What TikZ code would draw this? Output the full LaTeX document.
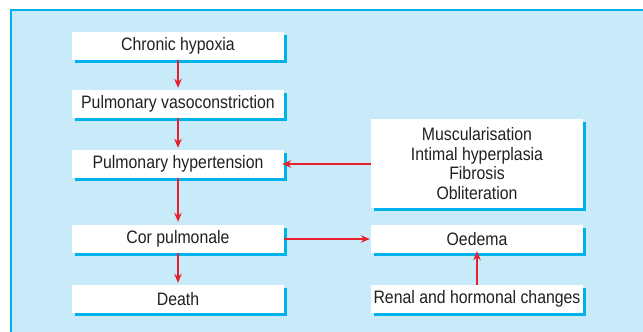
\documentclass[tikz,border=0pt]{standalone}
\usepackage{fontspec}
\setmainfont{Liberation Sans}[FakeStretch=0.88]
\usepackage{xcolor}
\usepackage{tikz}
\usetikzlibrary{arrows.meta, positioning, shadows}

\definecolor{panelblue}{HTML}{C8EAF9}
\definecolor{edgecyan}{HTML}{00B2EB}
\definecolor{arrowred}{HTML}{E8202E}
\definecolor{inkgrey}{HTML}{231F20}

\begin{document}
\begin{tikzpicture}[
    x=1pt, y=-1pt,
    stage/.style={rectangle, fill=white, minimum width=212pt, minimum height=28pt,
        inner sep=0pt, align=center, text=inkgrey, font=\fontsize{18}{19.5}\selectfont,
        general shadow={fill=edgecyan, shadow xshift=3pt, shadow yshift=-3pt}},
    link/.style={draw=arrowred, line width=1.8pt, -{Stealth[length=9pt, width=7.5pt]}}
]
\useasboundingbox (0,0) rectangle (643,332);

% Panel
\fill[panelblue] (11,10) rectangle (643,332);
\draw[edgecyan, line width=1.5pt] (11,332) -- (11,10) -- (643,10);

% Left column
\node[stage] (hypoxia) at (178, 45.5) {Chronic hypoxia};
\node[stage] (vaso) at (178, 104) {Pulmonary vasoconstriction};
\node[stage] (hyper) at (178, 164) {Pulmonary hypertension};
\node[stage] (cor) at (178, 239) {Cor pulmonale};
\node[stage] (death) at (178, 299) {Death};

% Right column
\node[stage, minimum height=89pt] (remodel) at (477, 163.5) {Muscularisation\\Intimal hyperplasia\\Fibrosis\\Obliteration};
\node[stage] (oedema) at (477, 239) {Oedema};
\node[stage] (renal) at (477, 299) {Renal and hormonal changes};

% Connections
\draw[link, shorten >=2pt] (hypoxia) -- (vaso);
\draw[link, shorten >=2pt] (vaso) -- (hyper);
\draw[link, shorten >=3pt] (hyper) -- (cor);
\draw[link, shorten >=2pt] (cor) -- (death);
\draw[link, shorten >=-2pt] (remodel.west |- hyper.east) -- (hyper.east);
\draw[link, shorten >=1pt] (cor) -- (oedema);
\draw[link, shorten >=-2pt] (renal) -- (oedema);

\end{tikzpicture}
\end{document}
